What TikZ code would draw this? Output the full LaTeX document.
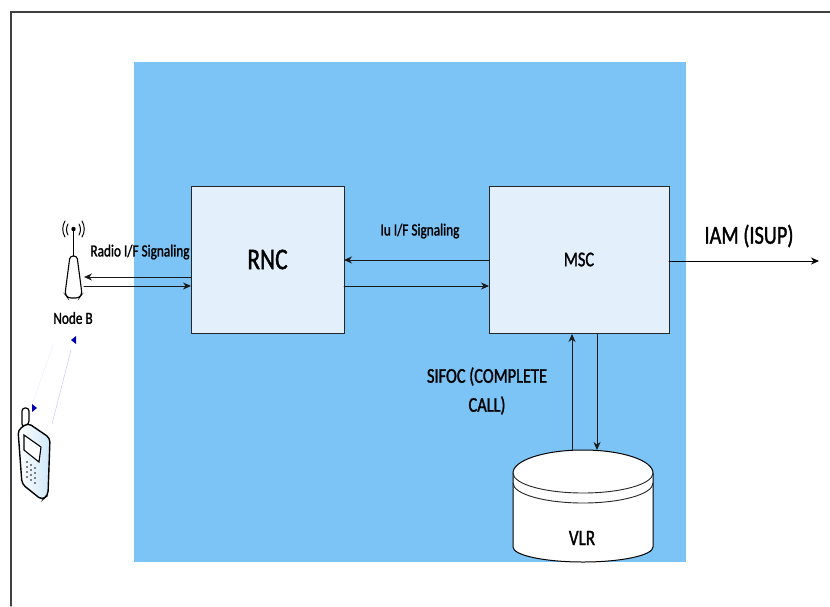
\documentclass[tikz,border=0pt]{standalone}
\usepackage{fontspec}
\setmainfont{Carlito}
\newfontfamily\tagfont[FakeStretch=0.78,FakeBold=1.3]{Carlito}
\usepackage{tikz}
\usetikzlibrary{arrows.meta}
\definecolor{coreblue}{HTML}{7CC3F6}
\definecolor{boxblue}{HTML}{E3F0FB}

\begin{document}
\begin{tikzpicture}[x=1pt,y=-1pt,>={Stealth[length=8pt,width=7pt]},line cap=round]
\tikzset{box/.style=
	{draw=black!85,line width=1pt,fill=boxblue,minimum width=#1,minimum height=147pt,inner sep=0pt},
	signal/.style={draw=black!90,line width=1pt,->},
	tag/.style={inner sep=0pt,align=center,text=black}}
\useasboundingbox (0,0) rectangle (830,606);
\fill[white] (0,0) rectangle (830,606);
\draw[black!75,line width=1.1pt] (11,606) -- (11,12) -- (830,12);
\fill[coreblue] (134,62) rectangle (686,562);

% main boxes
\node[box=153pt,font=\tagfont\fontsize{30}{32}\selectfont] (rnc) at (267.5,259.5) {RNC};
\node[box=180pt,font=\tagfont\fontsize{21}{23}\selectfont] (msc) at (579,259.5) {MSC};

% free ends of connectors
\coordinate (rncback) at (191,277);
\coordinate (rncout) at (191,286);
\coordinate (nbback) at (84,277);
\coordinate (nbout) at (84,286);
\coordinate (rnciu) at (344,260);
\coordinate (mscin) at (489,260);
\coordinate (rncright) at (344,286);
\coordinate (mscleft) at (489,286);
\coordinate (mscout) at (669,261);
\coordinate (isup) at (819,261);
\coordinate (vlrup) at (572,450);
\coordinate (mscup) at (572,334);
\coordinate (mscdown) at (597,334);
\coordinate (vlrdown) at (597,450);

% VLR drum
\draw[black,line width=1pt,fill=white] (513,473) arc[x radius=70,y radius=23,start angle=180,end angle=360]
	-- (653,547) arc[x radius=70,y radius=15,start angle=0,end angle=180] -- cycle;
\draw[black!85,line width=.9pt] (513,473) arc[x radius=70,y radius=20,start angle=180,end angle=0];
\draw[black!85,line width=.9pt] (513,483) arc[x radius=70,y radius=20,start angle=180,end angle=0];
\node[tag,font=\tagfont\fontsize{22}{24}\selectfont] (vlr) at (582,538) {VLR};

\draw[signal] (rncback) -- (nbback);
\draw[signal] (nbout) -- (rncout);
\draw[signal] (mscin) -- (rnciu);
\draw[signal] (rncright) -- (mscleft);
\draw[signal,black] (mscout) -- (isup);
\draw[signal] (vlrup) -- (mscup);
\draw[signal] (mscdown) -- (vlrdown);

% labels
\node[tag,font=\tagfont\fontsize{17}{19}\selectfont] (radio) at (140,252) {Radio I/F Signaling};
\node[tag,font=\tagfont\fontsize{17}{19}\selectfont] (iuif) at (420,231) {Iu I/F Signaling};
\node[tag,font=\tagfont\fontsize{26}{28}\selectfont] (iam) at (749,236) {IAM (ISUP)};
\node[tag,font=\tagfont\fontsize{21}{29}\selectfont] (sifoc) at (487,391) {SIFOC (COMPLETE\\CALL)};
\node[tag,font=\tagfont\fontsize{17}{19}\selectfont] (nodeb) at (73,318) {Node B};

% Node B mast
\draw[black,line width=1.1pt,fill=white,rounded corners=3pt] (70,256) -- (65,294) -- (68,298) -- (79,298) -- (82,294) -- (77,256) -- cycle;
\draw[black,line width=1.1pt] (73.5,256) -- (73.5,229);
\fill[black] (73.5,229) circle (2.2pt);
\draw[black,line width=1pt] (68,224) .. controls (66,228) and (66,231) .. (68,235);
\draw[black,line width=1pt] (79,224) .. controls (81,228) and (81,231) .. (79,235);
\draw[black,line width=1pt] (65,221) .. controls (62,226) and (62,232) .. (65,237);
\draw[black,line width=1pt] (82,221) .. controls (85,226) and (85,232) .. (82,237);

% radio link to handset
\draw[blue!25,thin] (52,424) -- (71,350);
\draw[blue!8,thin] (32,405) -- (53,345);
\fill[blue!70!black] (71,340) -- (76,336) -- (76,344) -- cycle;
\fill[blue!70!black] (37,408) -- (32,404) -- (32,412) -- cycle;

% handset
\draw[black,very thick,fill=white,rounded corners=3pt] (22,427) -- (22,408) -- (29,408) -- (29,424) -- cycle;
\draw[black,line width=1.4pt,left color=white,right color=boxblue!80!coreblue,rounded corners=4pt] (18,430) -- (28,423) -- (50,438) -- (48,495) -- (42,500) -- (22,484) -- cycle;
\draw[black,line width=1.1pt,fill=white] (24,435) -- (41,447) -- (39,462) -- (24,450) -- cycle;
\foreach \i in {0,1,2,3}
	\foreach \j in {0,1,2}
		\fill[black!65] (27+4*\j,462+5*\i+3*\j) circle (1.2pt);
\end{tikzpicture}
\end{document}
